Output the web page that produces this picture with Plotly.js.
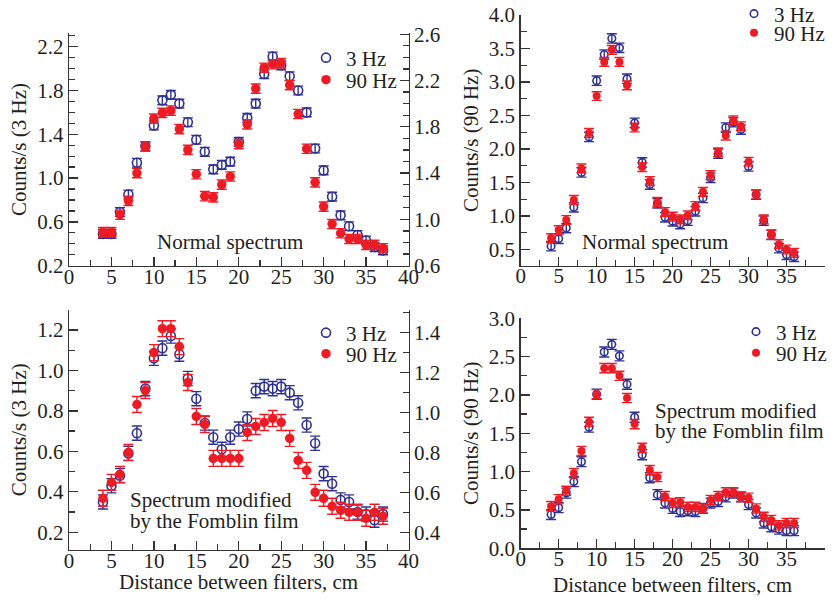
<!DOCTYPE html>
<html><head><meta charset="utf-8">
<script src="https://cdn.plot.ly/plotly-3.0.1.min.js"></script>
<style>html,body{margin:0;padding:0;background:#fff}#chart{width:834px;height:601px}</style>
</head><body><div id="chart"></div>
<script>
// distances (cm)
const dist37 = [4,5,6,7,8,9,10,11,12,13,14,15,16,17,18,19,20,21,22,23,24,25,26,27,28,29,30,31,32,33,34,35,36,37];
const dist36 = [4,5,6,7,8,9,10,11,12,13,14,15,16,17,18,19,20,21,22,23,24,25,26,27,28,29,30,31,32,33,34,35,36];

// Top-left: normal spectrum (3 Hz on left axis, 90 Hz on right axis)
const tl3Hz  = [0.49,0.49,0.69,0.85,1.14,1.29,1.48,1.71,1.76,1.68,1.51,1.35,1.24,1.08,1.12,1.15,1.33,1.55,1.68,1.95,2.11,2.03,1.93,1.80,1.60,1.27,1.07,0.83,0.66,0.56,0.48,0.43,0.37,0.34];
const tl90Hz = [0.89,0.89,1.04,1.16,1.40,1.63,1.87,1.92,1.94,1.78,1.60,1.39,1.20,1.19,1.30,1.37,1.65,1.82,2.13,2.31,2.34,2.35,2.16,1.91,1.61,1.32,1.11,0.96,0.88,0.83,0.83,0.78,0.78,0.75];

// Top-right: normal spectrum
const tr3Hz  = [0.55,0.66,0.82,1.13,1.65,2.18,3.02,3.41,3.65,3.51,3.05,2.39,1.80,1.47,1.19,0.98,0.92,0.88,0.93,1.07,1.27,1.57,1.93,2.32,2.40,2.29,1.74,1.32,0.93,0.72,0.52,0.42,0.39];
const tr90Hz = [0.67,0.79,0.94,1.24,1.71,2.24,2.79,3.30,3.48,3.30,2.95,2.32,1.73,1.52,1.21,1.06,0.99,0.95,1.01,1.15,1.36,1.61,1.95,2.20,2.43,2.34,1.81,1.32,0.95,0.72,0.58,0.50,0.45];

// Bottom-left: Fomblin-modified spectrum (3 Hz left axis, 90 Hz right axis)
const bl3Hz  = [0.35,0.43,0.48,0.59,0.69,0.91,1.06,1.11,1.17,1.08,0.96,0.86,0.74,0.67,0.61,0.67,0.71,0.76,0.90,0.92,0.91,0.92,0.89,0.84,0.73,0.64,0.49,0.44,0.36,0.35,0.30,0.29,0.26,0.29];
const bl90Hz = [0.57,0.65,0.69,0.80,1.04,1.11,1.30,1.42,1.42,1.33,1.15,0.98,0.94,0.77,0.77,0.77,0.77,0.90,0.93,0.95,0.97,0.95,0.87,0.76,0.71,0.60,0.57,0.53,0.51,0.50,0.50,0.47,0.50,0.48];

// Bottom-right: Fomblin-modified spectrum
const br3Hz  = [0.44,0.53,0.72,0.87,1.13,1.58,2.01,2.56,2.66,2.51,2.14,1.71,1.22,0.92,0.70,0.59,0.52,0.48,0.49,0.48,0.52,0.59,0.61,0.67,0.72,0.67,0.57,0.46,0.33,0.28,0.25,0.23,0.23];
const br90Hz = [0.55,0.64,0.75,0.98,1.27,1.65,2.01,2.35,2.35,2.25,1.96,1.62,1.31,1.02,0.93,0.68,0.59,0.60,0.54,0.54,0.52,0.63,0.68,0.73,0.73,0.67,0.66,0.52,0.41,0.37,0.30,0.33,0.33];

// approximate statistical error (constant per series)
const errTL3 = 0.04, errTL90 = 0.04, errTR3 = 0.07, errTR90 = 0.065;
const errBL3 = 0.035, errBL90 = 0.04, errBR3 = 0.065, errBR90 = 0.06;

const seriesNames = ['3 Hz', '90 Hz'];
const yTitle3 = 'Counts/s (3 Hz)', yTitle90 = 'Counts/s (90 Hz)';
const xTitle = 'Distance between filters, cm';
const noteNormal = 'Normal spectrum';
const noteMod1 = 'Spectrum modified', noteMod2 = 'by the Fomblin film';

const W = 834, H = 601;
const fx = p => p / W, fy = p => (H - p) / H;
const FAM = 'Liberation Serif';
const FONT = {family: FAM, size: 21, color: '#231f20'};
const BLUE = '#2e3192', RED = '#ed1c24', AX = '#333333';

function blueTrace(x, y, xa, ya, leg, err, size) {
  return {type: 'scatter', mode: 'markers', name: seriesNames[0], x: x, y: y, xaxis: xa, yaxis: ya, legend: leg,
    marker: {symbol: 'circle-open', size: size, color: BLUE, line: {width: 1.6, color: BLUE}},
    error_y: {type: 'constant', value: err, color: BLUE, thickness: 1.4, width: 5}};
}
function redTrace(x, y, xa, ya, leg, err, size) {
  return {type: 'scatter', mode: 'markers', name: seriesNames[1], x: x, y: y, xaxis: xa, yaxis: ya, legend: leg,
    marker: {symbol: 'circle', size: size, color: RED},
    error_y: {type: 'constant', value: err, color: RED, thickness: 1.4, width: 5}};
}

const data = [
  blueTrace(dist37, tl3Hz, 'x', 'y', 'legend', errTL3, 9),
  redTrace(dist37, tl90Hz, 'x', 'y2', 'legend2', errTL90, 9.5),
  blueTrace(dist36, tr3Hz, 'x2', 'y3', 'legend3', errTR3, 7.5),
  redTrace(dist36, tr90Hz, 'x2', 'y3', 'legend4', errTR90, 8),
  blueTrace(dist37, bl3Hz, 'x3', 'y4', 'legend5', errBL3, 9),
  redTrace(dist37, bl90Hz, 'x3', 'y5', 'legend6', errBL90, 9.5),
  blueTrace(dist36, br3Hz, 'x4', 'y6', 'legend7', errBR3, 7.5),
  redTrace(dist36, br90Hz, 'x4', 'y6', 'legend8', errBR90, 8)
];

const base = {showline: true, linecolor: AX, linewidth: 1.4, ticks: 'inside', ticklen: 9, tickwidth: 1.3,
  tickcolor: AX, tickfont: FONT, showgrid: false, zeroline: false, fixedrange: true, automargin: false};
function minor(d) { return {dtick: d, ticks: 'inside', ticklen: 6, tickwidth: 1.3, tickcolor: AX, showgrid: false}; }
function xax(dom, anchor) {
  return Object.assign({}, base, {domain: dom, anchor: anchor, range: [0, 40], tick0: 0, dtick: 5,
    minor: minor(2.5), ticklabelstandoff: -9});
}
function yax(dom, anchor, range, tick0, dtick, mdt, extra) {
  return Object.assign({}, base, {domain: dom, anchor: anchor, range: range, tick0: tick0, dtick: dtick,
    tickformat: '.1f', minor: minor(mdt)}, extra || {});
}

const xL = [fx(69), fx(408.5)], xR = [fx(520.7), fx(824.5)];
const yTop = [fy(266), fy(33)], yTopR = [fy(265.7), fy(15)];
const yBot = [fy(550), fy(309.5)], yBotR = [fy(548.3), fy(318.3)];

function leg(px, py) {
  return {x: fx(px), y: fy(py), xanchor: 'left', yanchor: 'middle', bgcolor: 'rgba(0,0,0,0)', borderwidth: 0, font: FONT};
}
function note(text, px, py, anchor) {
  return {xref: 'paper', yref: 'paper', x: fx(px), y: fy(py), text: text, showarrow: false, font: FONT, xanchor: anchor, yanchor: 'middle'};
}

const layout = {
  width: W, height: H, margin: {l: 0, r: 0, t: 0, b: 0, autoexpand: false},
  paper_bgcolor: '#fff', plot_bgcolor: 'rgba(0,0,0,0)', font: FONT,
  xaxis: xax(xL, 'y'),
  yaxis: yax(yTop, 'x', [0.197, 2.325], 0.2, 0.4, 0.1, {title: {text: yTitle3, font: FONT, standoff: 5}}),
  yaxis2: yax(yTop, 'x', [0.597, 2.610], 0.6, 0.4, 0.1, {overlaying: 'y', side: 'right'}),
  xaxis2: xax(xR, 'y3'),
  yaxis3: yax(yTopR, 'x2', [0.258, 4.0], 0.5, 0.5, 0.25, {title: {text: yTitle90, font: FONT, standoff: 4}}),
  xaxis3: xax(xL, 'y4'),
  yaxis4: yax(yBot, 'x3', [0.1125, 1.301], 0.2, 0.2, 0.1, {title: {text: yTitle3, font: FONT, standoff: 5}}),
  yaxis5: yax(yBot, 'x3', [0.311, 1.516], 0.4, 0.2, 0.1, {overlaying: 'y4', side: 'right'}),
  xaxis4: xax(xR, 'y6'),
  yaxis6: yax(yBotR, 'x4', [0, 3.0], 0, 0.5, 0.25, {title: {text: yTitle90, font: FONT, standoff: 4}}),
  legend: leg(306, 58), legend2: leg(306, 80),
  legend3: leg(734, 14), legend4: leg(734, 33),
  legend5: leg(306, 333), legend6: leg(306, 354),
  legend7: leg(736, 332), legend8: leg(736, 353),
  annotations: [
    note(noteNormal, 229.5, 242, 'center'),
    note(noteNormal, 655, 242, 'center'),
    note(noteMod1, 128, 500, 'left'),
    note(noteMod2, 128, 521, 'left'),
    note(noteMod1, 653, 411, 'left'),
    note(noteMod2, 653, 431, 'left'),
    note(xTitle, 238.5, 582, 'center'),
    note(xTitle, 672.5, 585, 'center')
  ],
  showlegend: true
};

Plotly.newPlot('chart', data, layout, {displayModeBar: false, staticPlot: true});
</script></body></html>
